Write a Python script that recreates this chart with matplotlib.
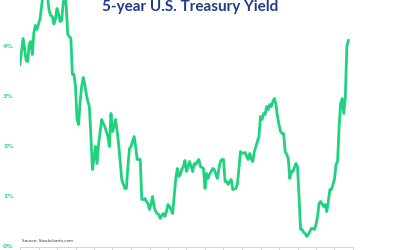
import matplotlib
matplotlib.use("Agg")
import matplotlib.pyplot as plt
import numpy as np

# Month-end 5-year Treasury yield (%), Jan 2005 .. Oct 2022
y2005 = [3.64, 3.90, 4.16, 3.95, 3.72, 3.70, 4.05, 4.10, 3.84, 4.28, 4.42, 4.34]
y2006 = [4.45, 4.55, 4.80, 5.05, 5.10, 5.15, 4.95, 4.70, 4.62, 4.60, 4.45, 4.55]
y2007 = [4.76, 4.65, 4.50, 4.52, 4.85, 5.05, 4.80, 4.24, 4.20, 4.16, 3.44, 3.44]
y2008 = [3.20, 2.55, 2.44, 2.90, 3.20, 3.38, 3.25, 3.05, 2.90, 2.80, 2.20, 1.54]
y2009 = [1.75, 2.00, 1.66, 2.05, 2.30, 2.54, 2.46, 2.40, 2.30, 2.20, 2.00, 2.66]
y2010 = [2.30, 2.40, 2.54, 2.30, 2.04, 1.70, 1.34, 1.25, 1.16, 1.16, 1.60, 1.96]
y2011 = [2.00, 2.10, 2.20, 2.00, 1.74, 1.74, 1.74, 0.94, 0.94, 0.96, 0.90, 0.86]
y2012 = [0.74, 0.85, 1.00, 0.80, 0.70, 0.66, 0.64, 0.56, 0.62, 0.66, 0.60, 0.70]
y2013 = [0.84, 0.80, 0.74, 0.66, 1.00, 1.34, 1.56, 1.40, 1.44, 1.55, 1.60, 1.72]
y2014 = [1.50, 1.60, 1.70, 1.60, 1.50, 1.66, 1.64, 1.70, 1.74, 1.60, 1.58, 1.56]
y2015 = [1.16, 1.46, 1.36, 1.45, 1.50, 1.56, 1.54, 1.45, 1.36, 1.55, 1.70, 1.74]
y2016 = [1.74, 1.30, 1.30, 1.24, 1.30, 1.34, 1.14, 1.15, 1.16, 1.24, 1.55, 1.90]
y2017 = [1.86, 1.87, 1.88, 1.80, 1.74, 1.86, 1.75, 1.70, 1.90, 2.00, 2.10, 2.20]
y2018 = [2.60, 2.54, 2.66, 2.64, 2.80, 2.74, 2.84, 2.80, 2.90, 2.96, 2.85, 2.60]
y2019 = [2.44, 2.30, 2.26, 2.26, 1.90, 1.84, 1.76, 1.36, 1.50, 1.50, 1.58, 1.66]
y2020 = [1.60, 1.00, 0.34, 0.34, 0.28, 0.26, 0.20, 0.24, 0.30, 0.36, 0.36, 0.34]
y2021 = [0.44, 0.60, 0.86, 0.90, 0.85, 0.80, 0.84, 0.70, 0.90, 1.14, 1.14, 1.24]
y2022 = [1.35, 1.64, 1.70, 2.40, 2.86, 2.96, 2.66, 2.96, 4.00, 4.12]

yields = (y2005 + y2006 + y2007 + y2008 + y2009 + y2010 + y2011 + y2012 + y2013
          + y2014 + y2015 + y2016 + y2017 + y2018 + y2019 + y2020 + y2021 + y2022)
months = np.arange(len(yields))

ytick_vals = [0, 1, 2, 3, 4]
ytick_labels = ["0%", "1%", "2%", "3%", "4%"]

green = "#1ed27e"
fig = plt.figure(figsize=(4, 2.5), dpi=100)
ax = fig.add_axes([0.05, 0.014, 0.8325, 0.986])
ax.plot(months, yields, color=green, lw=2.0, solid_joinstyle="round")
ax.set_xlim(0, 216)
ax.set_ylim(0, 4.93)

ax.set_xticks(np.arange(0, 217, 12))
ax.set_xticklabels([])
ax.tick_params(axis="x", length=2.5, color="#d0d0d0", width=0.6)
ax.set_yticks(ytick_vals)
ax.set_yticklabels(ytick_labels, fontsize=4.5, color="#3fd98c", fontweight="bold")
ax.tick_params(axis="y", length=0, pad=4.5)
for s in ["top", "right", "left"]:
    ax.spines[s].set_visible(False)
ax.spines["bottom"].set_color("#d0d0d0")
ax.spines["bottom"].set_linewidth(0.6)

fig.text(0.475, 0.972, "5-year U.S. Treasury Yield", ha="center", va="center",
         fontsize=11, fontweight="bold", color="#1f3c88", family="Lato")
fig.text(0.055, 0.036, "Source: Stockcharts.com", ha="left", va="center",
         fontsize=3.0, color="#333333")

fig.savefig("out.png", dpi=100)
